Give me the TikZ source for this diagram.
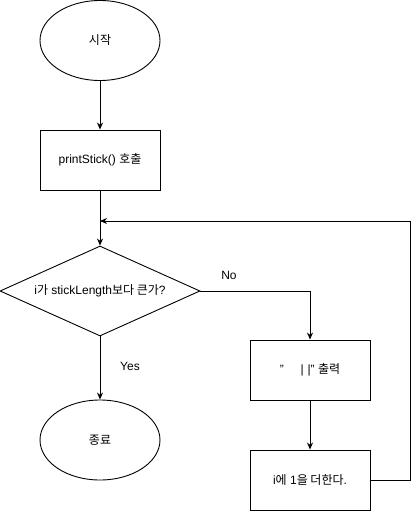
\documentclass[tikz,border=0pt]{standalone}
\usepackage{fontspec}
\setmainfont{Liberation Sans}
\newfontfamily\kr{Noto Sans CJK KR}
\usetikzlibrary{shapes.geometric,arrows.meta}
\begin{document}
\begin{tikzpicture}[x=1pt,y=-1pt,
  every node/.style={font=\fontsize{12}{14}\selectfont},
  term/.style={draw,ellipse,minimum width=120pt,minimum height=80pt,inner sep=0pt},
  proc/.style={draw,rectangle,minimum width=120pt,minimum height=60pt,inner sep=0pt},
  decide/.style={draw,diamond,aspect=2.22,minimum width=200pt,minimum height=90pt,inner sep=0pt},
  flow/.style={line width=0.9pt,-{Stealth[length=7pt,width=6pt]}},
  plain/.style={line width=0.9pt}]
\useasboundingbox (0,0) rectangle (419,511);
\fill[white] (0,0) rectangle (419,511);

% nodes
\node[term,line width=0.9pt] (start) at (100,40.5) {{\kr 시작}};
\node[proc,line width=0.9pt] (call) at (100,160) {printStick() {\kr 호출}};
\node[decide,line width=0.9pt] (test) at (100,291) {i{\kr 가} stickLength{\kr 보다 큰가}?};
\node[term,line width=0.9pt] (stop) at (100,440) {{\kr 종료}};
\node[proc,line width=0.9pt] (print) at (310,370) {"\ \ \ \ \ |\,\,|" {\kr 출력}};
\node[proc,line width=0.9pt] (inc) at (310,480) {i{\kr 에} 1{\kr 을 더한다}.};

% loop-back junction on the line above the decision
\coordinate (join) at (100,221);

% connectors
\draw[flow] (start) -- (call);
\draw[flow] (call) -- (test);
\draw[flow] (test.east) -| (print.north);
\draw[flow] (test.south) -- (stop.north);
\draw[flow] (print) -- (inc);
\draw[flow] (inc.east) -- (410,480) |- (join);

% branch labels
\node at (229,275) {No};
\node at (130,366) {Yes};
\end{tikzpicture}
\end{document}
